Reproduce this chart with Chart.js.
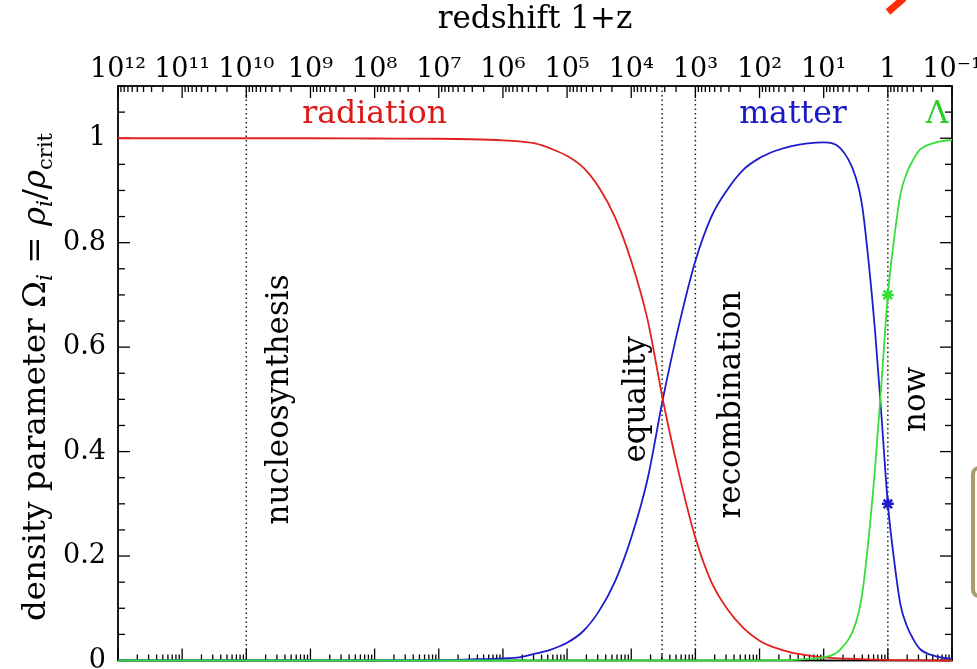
<!DOCTYPE html>
<html><head><meta charset="utf-8">
<script src="https://cdn.jsdelivr.net/npm/chart.js@4.4.0/dist/chart.umd.min.js"></script>
<style>html,body{margin:0;padding:0;background:#fff;overflow:hidden}</style>
</head><body>
<canvas id="c" width="977" height="669"></canvas>
<script>
// ---- data ----
const onePlusZ = [1e12,1e11,1e10,1e9,1e8,1e7,3.16e6,1e6,5.62e5,3.16e5,1.78e5,1e5,5.62e4,3.16e4,1.78e4,1e4,5620,3160,1780,1000,562,316,178,100,56.2,31.6,17.8,10,5.62,3.16,2.51,2.0,1.58,1.26,1,0.794,0.631,0.501,0.398,0.316,0.178,0.1];
const omegaRadiation = [1,1,1,1,0.9995,0.999,0.998,0.996,0.994,0.99,0.98,0.966,0.944,0.905,0.848,0.765,0.655,0.495,0.355,0.235,0.15,0.098,0.062,0.038,0.024,0.015,0.01,0.006,0.004,0.003,0.0025,0.002,0.0015,0.0012,0.001,0.0007,0.0005,0.0003,0.0002,0.0001,0,0];
const omegaMatter = [0,0,0,0,0,0.0005,0.002,0.004,0.006,0.013,0.021,0.034,0.056,0.095,0.152,0.235,0.345,0.505,0.645,0.765,0.85,0.902,0.94,0.962,0.976,0.985,0.99,0.992,0.982,0.925,0.87,0.765,0.63,0.47,0.3,0.19,0.105,0.065,0.04,0.022,0.008,0.003];
const omegaLambda = [0,0,0,0,0,0,0,0,0,0,0,0,0,0,0,0,0,0,0,0,0,0,0,0,0.0005,0.001,0.003,0.006,0.02,0.072,0.128,0.232,0.37,0.53,0.7,0.81,0.895,0.935,0.96,0.978,0.992,0.997];
const nowZ = [1, 1];
const nowOmega = [0.7, 0.3]; // Lambda, matter today
const xTickValues = [1e12,1e11,1e10,1e9,1e8,1e7,1e6,1e5,1e4,1e3,1e2,1e1,1,0.1];
const xTickLabels = ['10¹²','10¹¹','10¹⁰','10⁹','10⁸','10⁷','10⁶','10⁵','10⁴','10³','10²','10¹','1','10⁻¹'];
const yTickValues = [0,0.2,0.4,0.6,0.8,1];
const yTickLabels = ['0','0.2','0.4','0.6','0.8','1'];
const epochNames = ['nucleosynthesis','equality','recombination','now'];
const epochZ = [1e10, 3300, 1000, 1];
const phaseNames = ['radiation','matter','Λ'];

const FAM = "'DejaVu Serif', serif";
const RED = 'rgb(226,32,30)', BLUE = 'rgb(28,28,205)', GREEN = 'rgb(55,222,55)';

function pts(ys){ return onePlusZ.map((z,i)=>({x:z, y:ys[i]})); }

// label placement (style/position config, not data)
const phaseLabelPos = [{x:1e8,y:1.029,c:'rgb(220,25,25)'},{x:30,y:1.029,c:'rgb(25,25,200)'},{x:0.17,y:1.029,c:'rgb(40,205,40)'}];
const epochLabelPos = [{x:2.2e9,y:0.5},{x:6.1e3,y:0.5},{x:202,y:0.49},{x:0.264,y:0.5}];

const framePlugin = {
  id:'frame',
  beforeDatasetsDraw(chart){
    const {ctx, chartArea:a, scales:{x,y}} = chart;
    const line=(x1,y1,x2,y2)=>{ctx.beginPath();ctx.moveTo(x1,y1);ctx.lineTo(x2,y2);ctx.stroke();};
    ctx.save();
    ctx.strokeStyle='#000';
    // epoch dotted lines
    ctx.lineWidth=1.5; ctx.setLineDash([1.5,3]); ctx.strokeStyle='#222';
    epochZ.forEach(z=>{const px=x.getPixelForValue(z); line(px,a.top,px,a.bottom);});
    ctx.setLineDash([]); ctx.strokeStyle='#000';
    // y ticks both sides
    ctx.lineWidth=1.3;
    for(let i=0;i<=22;i++){
      const v=i*0.05; const major=(i%4===0); const len=major?12:7;
      const py=y.getPixelForValue(v);
      if(py<a.top-0.5) continue;
      line(a.left,py,a.left+len,py); line(a.right,py,a.right-len,py);
    }
    // top ticks: 1+z
    for(let e=-1;e<=12;e++) for(let k=1;k<=9;k++){
      const v=k*Math.pow(10,e); if(v<0.1-1e-12||v>1e12*1.0001) continue;
      const px=x.getPixelForValue(v); const len=(k===1)?12:6;
      line(px,a.top,px,a.top+len);
    }
    // bottom ticks: scale factor a = 1/(1+z)
    for(let e=-12;e<=1;e++) for(let k=1;k<=9;k++){
      const av=k*Math.pow(10,e); const z=1/av; if(z<0.1*0.9999||z>1e12*1.0001) continue;
      const px=x.getPixelForValue(z); const len=(k===1)?12:6;
      line(px,a.bottom,px,a.bottom-len);
    }
    ctx.lineWidth=1.8;
    ctx.strokeRect(a.left,a.top,a.right-a.left,a.bottom-a.top);
    ctx.restore();
  },
  afterDatasetsDraw(chart){
    const {ctx, scales:{x,y}} = chart;
    ctx.save();
    ctx.font = '31.5px '+FAM; ctx.textAlign='center'; ctx.textBaseline='alphabetic';
    phaseNames.forEach((t,i)=>{const p=phaseLabelPos[i]; ctx.fillStyle=p.c; ctx.fillText(t,x.getPixelForValue(p.x),y.getPixelForValue(p.y));});
    ctx.fillStyle='#000';
    ctx.font = '31px '+FAM;
    epochNames.forEach((t,i)=>{const p=epochLabelPos[i];
      ctx.save(); ctx.translate(x.getPixelForValue(p.x), y.getPixelForValue(p.y)); ctx.rotate(-Math.PI/2);
      ctx.fillText(t,0,0); ctx.restore();});
    ctx.restore();
  },
  afterDraw(chart){
    const {ctx, chartArea:a} = chart;
    ctx.save();
    // y axis title with subscripts
    const parts=[
      {t:'density parameter ',f:'32.5px '+FAM},
      {t:'Ω',f:'32.5px '+FAM},
      {t:'i',f:'italic 22px '+FAM,dy:7},
      {t:' = ',f:'32.5px '+FAM},
      {t:'ρ',f:'italic 32.5px '+FAM},
      {t:'i',f:'italic 22px '+FAM,dy:7},
      {t:'/',f:'32.5px '+FAM},
      {t:'ρ',f:'italic 32.5px '+FAM},
      {t:'crit',f:'21px '+FAM,dy:7}
    ];
    let total=0; parts.forEach(p=>{ctx.font=p.f; p.w=ctx.measureText(p.t).width; total+=p.w;});
    ctx.translate(45,377); ctx.rotate(-Math.PI/2);
    ctx.fillStyle='#000'; ctx.textBaseline='alphabetic'; ctx.textAlign='left';
    let cx=-total/2; parts.forEach(p=>{ctx.font=p.f; ctx.fillText(p.t,cx,p.dy||0); cx+=p.w;});
    ctx.restore();
    // screenshot artefacts at the edges
    ctx.save();
    ctx.strokeStyle='rgb(255,45,10)'; ctx.lineWidth=7; ctx.lineCap='butt';
    ctx.beginPath(); ctx.moveTo(888,12); ctx.lineTo(904,-2); ctx.stroke();
    ctx.fillStyle='#fffdf3'; ctx.strokeStyle='rgb(168,156,112)'; ctx.lineWidth=4;
    ctx.beginPath(); ctx.roundRect(973,468,40,128,6); ctx.fill(); ctx.stroke();
    ctx.restore();
  }
};

new Chart(document.getElementById('c'), {
  type:'line',
  data:{datasets:[
    {label:'radiation',data:pts(omegaRadiation),borderColor:RED,borderWidth:1.8,pointRadius:0,cubicInterpolationMode:'monotone',order:1,clip:4},
    {label:'matter',data:pts(omegaMatter),borderColor:BLUE,borderWidth:1.8,pointRadius:0,cubicInterpolationMode:'monotone',order:2,clip:4},
    {label:'Lambda',data:pts(omegaLambda),borderColor:GREEN,borderWidth:1.8,pointRadius:0,cubicInterpolationMode:'monotone',order:0,clip:4},
    {label:'now',data:nowZ.map((z,i)=>({x:z,y:nowOmega[i]})),showLine:false,pointStyle:'star',pointRadius:6,borderWidth:2.5,
     pointBorderColor:[GREEN,BLUE],pointBackgroundColor:[GREEN,BLUE],order:-1}
  ]},
  options:{
    responsive:false, animation:false, devicePixelRatio:1,
    layout:{padding:{left:0,right:25,top:0,bottom:7}},
    plugins:{legend:{display:false},tooltip:{enabled:false}},
    scales:{
      x:{type:'logarithmic',position:'top',reverse:true,min:0.1,max:1e12,
        grid:{display:false,drawTicks:false},border:{display:false},
        afterBuildTicks:s=>{s.ticks=xTickValues.map(v=>({value:v}));},
        afterFit:s=>{s.height=86;s.paddingLeft=0;s.paddingRight=0;},
        ticks:{autoSkip:false,maxRotation:0,minRotation:0,padding:0,color:'#000',font:{family:FAM,size:27},callback:(v,i)=>xTickLabels[i]},
        title:{display:true,text:'redshift 1+z',color:'#000',font:{family:FAM,size:31},padding:{top:1,bottom:0}}
      },
      y:{type:'linear',min:0,max:1.1,
        grid:{display:false,drawTicks:false},border:{display:false},
        afterBuildTicks:s=>{s.ticks=yTickValues.map(v=>({value:v}));},
        afterFit:s=>{s.width=118;s.paddingTop=0;s.paddingBottom=0;},
        ticks:{padding:12,color:'#000',font:{family:FAM,size:27},callback:(v,i)=>yTickLabels[i]}
      }
    }
  },
  plugins:[framePlugin]
});
</script>
</body></html>
